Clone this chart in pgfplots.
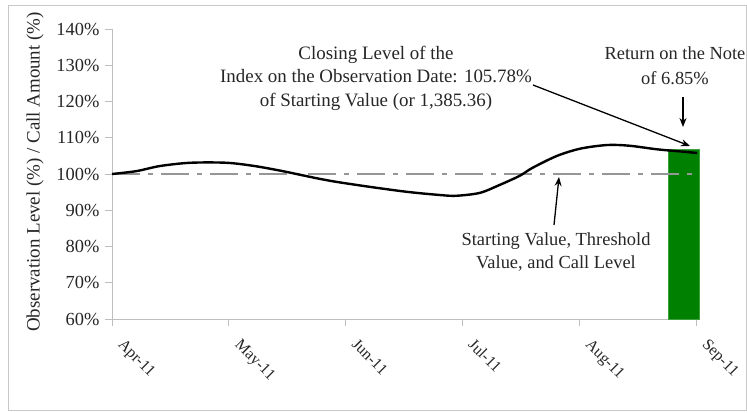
\documentclass[border=0pt]{standalone}
\usepackage{pgfplots}
\pgfplotsset{compat=1.18}
\usepackage{fontspec}
\setmainfont{Liberation Serif}
\usetikzlibrary{arrows.meta}
\definecolor{axgray}{RGB}{190,190,190}
\definecolor{dashgray}{RGB}{150,150,150}
\definecolor{bargreen}{RGB}{0,128,0}
\definecolor{baredge}{RGB}{60,160,60}
\definecolor{framegray}{RGB}{200,200,200}
\begin{document}
\begin{tikzpicture}
\begin{axis}[
  at={(112bp,93bp)}, anchor=south west,
  scale only axis, width=584bp, height=290bp,
  xmin=0, xmax=5, ymin=60, ymax=140,
  axis lines*=left,
  axis line style={axgray, line width=0.8bp, -},
  xtick={0,1,2,3,4,5},
  xticklabels={Apr-11,May-11,Jun-11,Jul-11,Aug-11,Sep-11},
  ytick={60,70,80,90,100,110,120,130,140},
  yticklabel={\pgfmathprintnumber{\tick}\%},
  /pgf/number format/assume math mode=true,
  tick style={axgray, line width=0.8bp},
  tick align=outside,
  major tick length=7bp,
  ticklabel style={font=\fontsize{18.5}{22}\selectfont, text=black!85},
  xticklabel style={font=\fontsize{16}{19}\selectfont, xshift=13bp, yshift=-7bp, rotate=-45, anchor=north west},
  yticklabel style={xshift=-2bp},
  clip=false,
]
\addplot[ybar, bar width=0.27, fill=bargreen, draw=baredge, line width=0.8bp, bar shift=0pt]
  coordinates {(4.895,106.85)};
\addplot[dashgray, line width=2.5bp, dash pattern=on 28bp off 8bp on 5bp off 8bp]
  coordinates {(0,100) (5,100)};
\addplot[black, line width=2.4bp, smooth, tension=0.5] coordinates {
 (0,100) (0.21,100.8) (0.41,102.2) (0.67,103.1) (0.98,103.1) (1.22,102.2)
 (1.46,100.8) (1.89,98.0) (2.47,95.3) (2.81,94.2) (2.95,94.0) (3.15,94.8)
 (3.32,97.0) (3.49,99.5) (3.60,101.7) (3.81,105.0) (4.01,107.0) (4.24,108.0)
 (4.43,107.8) (4.67,106.8) (4.91,106.1) (5.01,105.78)};
\end{axis}
\begin{scope}[x=1bp,y=1bp]
\draw[framegray, line width=1bp] (8.5,2) rectangle (746,406);
\node[rotate=90, font=\fontsize{19}{22}\selectfont, text=black!85] at (35,240)
  {Observation Level (\%) / Call Amount (\%)};
\node[align=center, font=\fontsize{19}{23.5}\selectfont, text=black!85] at (376,334)
  {Closing Level of the\\Index on the Observation Date: 105.78\%\\of Starting Value (or 1,385.36)};
\node[align=center, font=\fontsize{18.5}{25}\selectfont, text=black!85] at (675,346)
  {Return on the Note\\of 6.85\%};
\node[align=center, font=\fontsize{18.5}{23.5}\selectfont, text=black!85] at (556,160)
  {Starting Value, Threshold\\Value, and Call Level};
\draw[-{Stealth[length=9bp,width=7bp]}, line width=1.3bp] (533,327) -- (690,266);
\draw[-{Stealth[length=9bp,width=7bp]}, line width=1.3bp] (683,315) -- (683,285);
\draw[-{Stealth[length=9bp,width=7bp]}, line width=1.3bp] (554,187) -- (559,235);
\pgfresetboundingbox
\path[use as bounding box] (0,0) rectangle (747,412);
\end{scope}
\end{tikzpicture}
\end{document}
